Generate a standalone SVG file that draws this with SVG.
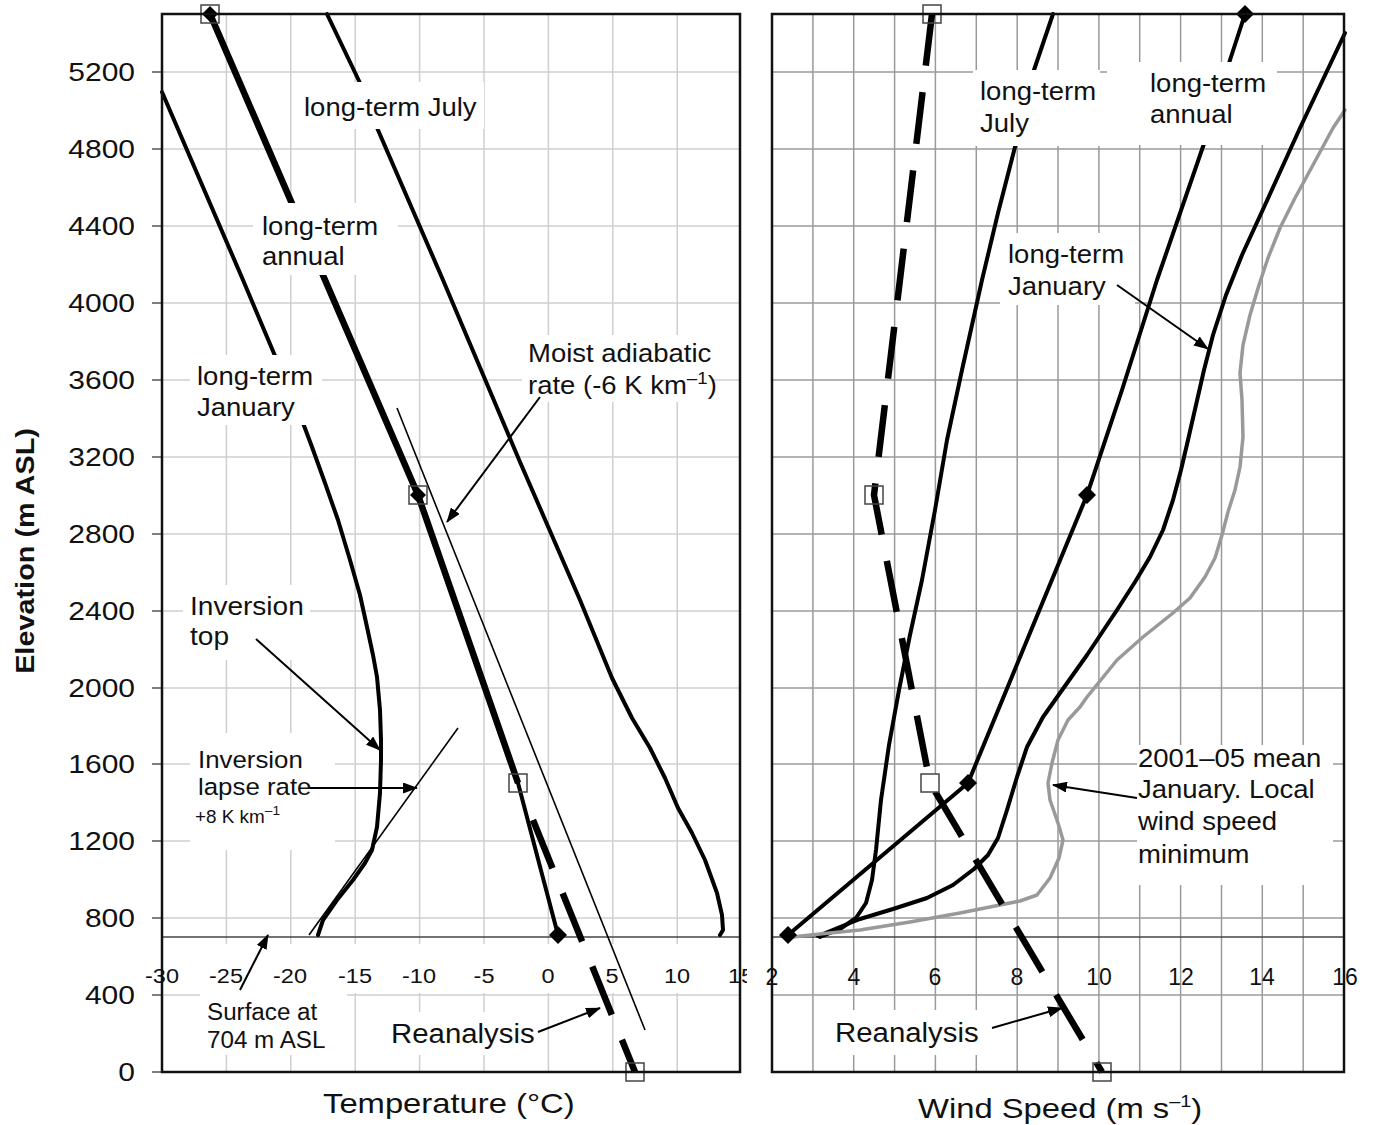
<svg xmlns="http://www.w3.org/2000/svg" width="1373" height="1125" viewBox="0 0 1373 1125">
<defs>
<style>
.gl{stroke:#cfcfcf;stroke-width:1.5}
.gr{stroke:#9a9a9a;stroke-width:1.5}
.frame{fill:none;stroke:#111;stroke-width:2.5}
.surf{stroke:#444;stroke-width:1.5}
.tk{stroke:#555;stroke-width:1.5}
.thick{fill:none;stroke:#000;stroke-width:4;stroke-linejoin:round;stroke-linecap:round}
.gray{fill:none;stroke:#999;stroke-width:3.5;stroke-linejoin:round;stroke-linecap:round}
.thin{fill:none;stroke:#000;stroke-width:1.6}
.rea{fill:none;stroke:#000;stroke-width:6.5;stroke-linecap:butt;stroke-linejoin:round}
.arr{fill:none;stroke:#000;stroke-width:2;marker-end:url(#ah)}
.box{fill:#fff}
.sq{fill:none;stroke:#444;stroke-width:1.5}
.sqw{fill:#fff;stroke:#444;stroke-width:1.5}
.dia{fill:#000}
.t{font-family:"Liberation Sans",Arial,sans-serif;font-size:25px;fill:#111}
.tk1{font-family:"Liberation Sans",Arial,sans-serif;font-size:21px;fill:#111;text-anchor:middle}
.tk2{font-family:"Liberation Sans",Arial,sans-serif;font-size:23px;fill:#111;text-anchor:middle}
.ty{font-family:"Liberation Sans",Arial,sans-serif;font-size:25px;fill:#111;text-anchor:end}
</style>
<marker id="ah" viewBox="0 0 15 11" refX="14" refY="5.5" markerWidth="15" markerHeight="11" markerUnits="userSpaceOnUse" orient="auto">
<path d="M0,0 L15,5.5 L0,11 z" fill="#000"/>
</marker>
</defs>
<rect width="1373" height="1125" fill="#fff"/>

<g id="left-grid">
<g class="gl">
<line x1="226.4" y1="14" x2="226.4" y2="1072"/><line x1="290.8" y1="14" x2="290.8" y2="1072"/><line x1="355.2" y1="14" x2="355.2" y2="1072"/><line x1="419.6" y1="14" x2="419.6" y2="1072"/><line x1="484" y1="14" x2="484" y2="1072"/><line x1="548.4" y1="14" x2="548.4" y2="1072"/><line x1="612.8" y1="14" x2="612.8" y2="1072"/><line x1="677.2" y1="14" x2="677.2" y2="1072"/>
<line x1="162" y1="72" x2="740" y2="72"/><line x1="162" y1="149" x2="740" y2="149"/><line x1="162" y1="226" x2="740" y2="226"/><line x1="162" y1="303" x2="740" y2="303"/><line x1="162" y1="380" x2="740" y2="380"/><line x1="162" y1="457" x2="740" y2="457"/><line x1="162" y1="534" x2="740" y2="534"/><line x1="162" y1="611" x2="740" y2="611"/><line x1="162" y1="688" x2="740" y2="688"/><line x1="162" y1="764" x2="740" y2="764"/><line x1="162" y1="841" x2="740" y2="841"/><line x1="162" y1="918" x2="740" y2="918"/><line x1="162" y1="995" x2="740" y2="995"/>
</g>
<rect class="box" x="163" y="944" width="576" height="49"/>
<line class="surf" x1="162" y1="937" x2="740" y2="937"/>
<g class="tk">
<line x1="152" y1="72" x2="162" y2="72"/><line x1="152" y1="149" x2="162" y2="149"/><line x1="152" y1="226" x2="162" y2="226"/><line x1="152" y1="303" x2="162" y2="303"/><line x1="152" y1="380" x2="162" y2="380"/><line x1="152" y1="457" x2="162" y2="457"/><line x1="152" y1="534" x2="162" y2="534"/><line x1="152" y1="611" x2="162" y2="611"/><line x1="152" y1="688" x2="162" y2="688"/><line x1="152" y1="764" x2="162" y2="764"/><line x1="152" y1="841" x2="162" y2="841"/><line x1="152" y1="918" x2="162" y2="918"/><line x1="152" y1="995" x2="162" y2="995"/><line x1="152" y1="1072" x2="162" y2="1072"/>
</g>
</g>

<g id="right-grid">
<g class="gr">
<line x1="812.9" y1="14" x2="812.9" y2="1072"/><line x1="853.7" y1="14" x2="853.7" y2="1072"/><line x1="894.6" y1="14" x2="894.6" y2="1072"/><line x1="935.4" y1="14" x2="935.4" y2="1072"/><line x1="976.3" y1="14" x2="976.3" y2="1072"/><line x1="1017.2" y1="14" x2="1017.2" y2="1072"/><line x1="1058" y1="14" x2="1058" y2="1072"/><line x1="1098.9" y1="14" x2="1098.9" y2="1072"/><line x1="1139.7" y1="14" x2="1139.7" y2="1072"/><line x1="1180.6" y1="14" x2="1180.6" y2="1072"/><line x1="1221.5" y1="14" x2="1221.5" y2="1072"/><line x1="1262.3" y1="14" x2="1262.3" y2="1072"/><line x1="1303.2" y1="14" x2="1303.2" y2="1072"/>
<line x1="772" y1="72" x2="1344" y2="72"/><line x1="772" y1="149" x2="1344" y2="149"/><line x1="772" y1="226" x2="1344" y2="226"/><line x1="772" y1="303" x2="1344" y2="303"/><line x1="772" y1="380" x2="1344" y2="380"/><line x1="772" y1="457" x2="1344" y2="457"/><line x1="772" y1="534" x2="1344" y2="534"/><line x1="772" y1="611" x2="1344" y2="611"/><line x1="772" y1="688" x2="1344" y2="688"/><line x1="772" y1="764" x2="1344" y2="764"/><line x1="772" y1="841" x2="1344" y2="841"/><line x1="772" y1="918" x2="1344" y2="918"/><line x1="772" y1="995" x2="1344" y2="995"/>
</g>
<line class="surf" x1="772" y1="937" x2="1344" y2="937"/>
</g>

<g id="left-curves">
<polyline id="temp-jan" class="thick" points="162,92 243,280 300,415 312,447 325,483 338,520 350,560 360,595 367,627 373,655 377,677 380,710 381,740 381,760 380,793 377,827 372,850 365,863 353,880 337,900 323,920 318,935"/>
<polyline id="temp-jul" class="thick" points="327,14 360,83 378,130 443,280 520,462 580,600 612,678 632,718 650,748 665,778 678,808 692,833 705,860 717,893 722,915 723,930 720,935"/>
<polyline id="temp-annual" class="thick" points="210,14 418,495 518,783 558,935"/>
<polyline id="temp-rea-upper" class="rea" points="210,14 418,495 518,783"/>
<path id="temp-rea-lower" class="rea" d="M533,820 L635,1072" stroke-dasharray="52 27"/>
<line id="moist-adiabat" class="thin" x1="397" y1="408" x2="645" y2="1030"/>
<line id="inversion-rate" class="thin" x1="458" y1="728" x2="309" y2="935"/>
<rect class="sq" x="201" y="5" width="18" height="18"/>
<polygon class="dia" points="210,6 218,14 210,22 202,14"/>
<rect class="sq" x="409" y="486" width="18" height="18"/>
<polygon class="dia" points="418,487 426,495 418,503 410,495"/>
<rect class="sq" x="509" y="774" width="18" height="18"/>
<polygon class="dia" points="558,926 567,935 558,944 549,935"/>
<rect class="sq" x="626" y="1063" width="18" height="18"/>
</g>

<g id="right-curves">
<polyline id="wind-jul" class="thick" points="1053,14 1034,70 1015,147 998,213 982,280 962,370 947,440 935,510 922,580 910,635 899,690 889,745 881,800 876,850 872,880 866,903 856,918 840,929 820,937"/>
<polyline id="wind-annual" class="thick" points="1245,14 1230,60 1207,135 1157,280 1122,390 1087,495 968,783 788,935"/>
<polyline id="wind-jan" class="thick" points="1345,33 1300,128 1265,205 1242,255 1226,295 1213,335 1204,370 1196,405 1188,440 1181,470 1173,500 1163,530 1150,557 1135,582 1117,610 1087,655 1060,693 1043,717 1027,747 1017,777 1007,810 998,838 988,855 974,869 953,885 927,898 893,909 860,919 840,927 818,936"/>
<polyline id="wind-2001-05" class="gray" points="1345,110 1333,128 1313,165 1295,198 1280,228 1268,258 1259,285 1250,315 1243,345 1240,373 1242,400 1243,437 1240,467 1235,490 1228,512 1222,535 1215,558 1205,577 1190,598 1173,613 1143,637 1117,660 1087,697 1080,707 1068,720 1058,740 1052,763 1048,783 1050,800 1058,823 1063,840 1059,858 1050,878 1037,895 1020,901 1000,905 960,913 910,922 860,930 810,935 793,937"/>
<polyline id="wind-rea" class="rea" points="932,14 874,495 930,783 1102,1072" stroke-dasharray="52 26.8"/>
<rect class="sq" x="923" y="5" width="18" height="18"/>
<polygon class="dia" points="1245,5 1254,14 1245,23 1236,14"/>
<rect class="sq" x="865" y="486" width="18" height="18"/>
<polygon class="dia" points="1087,486 1096,495 1087,504 1078,495"/>
<rect class="sqw" x="921" y="774" width="18" height="18"/>
<polygon class="dia" points="968,774 977,783 968,792 959,783"/>
<polygon class="dia" points="788,926 797,935 788,944 779,935"/>
<rect class="sq" x="1093" y="1063" width="18" height="18"/>
</g>

<g id="label-boxes">
<rect class="box" x="298" y="82" width="186" height="47"/>
<rect class="box" x="253" y="203" width="145" height="72"/>
<rect class="box" x="190" y="355" width="132" height="70"/>
<rect class="box" x="522" y="335" width="190" height="67"/>
<rect class="box" x="183" y="585" width="127" height="75"/>
<rect class="box" x="190" y="733" width="145" height="117"/>
<rect class="box" x="200" y="993" width="147" height="62"/>
<rect class="box" x="385" y="1012" width="155" height="43"/>
<rect class="box" x="973" y="70" width="127" height="76"/>
<rect class="box" x="1107" y="62" width="170" height="83"/>
<rect class="box" x="1000" y="233" width="135" height="72"/>
<rect class="box" x="1137" y="745" width="196" height="140"/>
<rect class="box" x="830" y="1010" width="157" height="45"/>
</g>

<g id="frames">
<rect class="frame" x="162" y="14" width="578" height="1058"/>
<rect class="frame" x="772" y="14" width="572" height="1058"/>
</g>

<g id="connectors">
<line class="arr" x1="540" y1="397" x2="447" y2="522"/>
<line class="arr" x1="256" y1="639" x2="380" y2="750"/>
<line class="arr" x1="310" y1="788" x2="417" y2="788"/>
<line class="arr" x1="240" y1="990" x2="268" y2="935"/>
<line class="arr" x1="538" y1="1032" x2="600" y2="1008"/>
<line class="arr" x1="1117" y1="285" x2="1208" y2="349"/>
<line class="arr" x1="1137" y1="798" x2="1053" y2="785"/>
<line class="arr" x1="992" y1="1028" x2="1062" y2="1008"/>
</g>

<g id="axis-labels">
<text class="ty" transform="translate(135,81) scale(1.2,1)">5200</text>
<text class="ty" transform="translate(135,158) scale(1.2,1)">4800</text>
<text class="ty" transform="translate(135,235) scale(1.2,1)">4400</text>
<text class="ty" transform="translate(135,312) scale(1.2,1)">4000</text>
<text class="ty" transform="translate(135,389) scale(1.2,1)">3600</text>
<text class="ty" transform="translate(135,466) scale(1.2,1)">3200</text>
<text class="ty" transform="translate(135,543) scale(1.2,1)">2800</text>
<text class="ty" transform="translate(135,620) scale(1.2,1)">2400</text>
<text class="ty" transform="translate(135,697) scale(1.2,1)">2000</text>
<text class="ty" transform="translate(135,773) scale(1.2,1)">1600</text>
<text class="ty" transform="translate(135,850) scale(1.2,1)">1200</text>
<text class="ty" transform="translate(135,927) scale(1.2,1)">800</text>
<text class="ty" transform="translate(135,1004) scale(1.2,1)">400</text>
<text class="ty" transform="translate(135,1081) scale(1.2,1)">0</text>
<text class="tk1" transform="translate(162,983) scale(1.12,1)">-30</text>
<text class="tk1" transform="translate(226,983) scale(1.12,1)">-25</text>
<text class="tk1" transform="translate(290,983) scale(1.12,1)">-20</text>
<text class="tk1" transform="translate(355,983) scale(1.12,1)">-15</text>
<text class="tk1" transform="translate(419,983) scale(1.12,1)">-10</text>
<text class="tk1" transform="translate(484,983) scale(1.12,1)">-5</text>
<text class="tk1" transform="translate(548,983) scale(1.12,1)">0</text>
<text class="tk1" transform="translate(612,983) scale(1.12,1)">5</text>
<text class="tk1" transform="translate(677,983) scale(1.12,1)">10</text>
<text class="tk1" transform="translate(741,983) scale(1.12,1)">15</text>
<rect class="box" x="747" y="960" width="19" height="30"/>
<text class="tk2" x="772" y="985">2</text>
<text class="tk2" x="854" y="985">4</text>
<text class="tk2" x="935" y="985">6</text>
<text class="tk2" x="1017" y="985">8</text>
<text class="tk2" x="1099" y="985">10</text>
<text class="tk2" x="1181" y="985">12</text>
<text class="tk2" x="1262" y="985">14</text>
<text class="tk2" x="1345" y="985">16</text>
<text class="t" style="font-weight:bold;font-size:26px;text-anchor:middle" transform="translate(34,551) rotate(-90) scale(1.11,1)">Elevation (m ASL)</text>
<text class="t" style="font-size:28px" transform="translate(323,1113) scale(1.17,1)">Temperature (°C)</text>
<text class="t" style="font-size:28px" transform="translate(918,1118) scale(1.17,1)">Wind Speed (m s<tspan dy="-11" font-size="17">–1</tspan><tspan dy="11">)</tspan></text>
</g>

<g id="annotations">
<text class="t" transform="translate(304,116) scale(1.1,1)">long-term July</text>
<text class="t" transform="translate(262,235) scale(1.1,1)"><tspan x="0" y="0">long-term</tspan><tspan x="0" y="30">annual</tspan></text>
<text class="t" transform="translate(197,385) scale(1.1,1)"><tspan x="0" y="0">long-term</tspan><tspan x="0" y="31">January</tspan></text>
<text class="t" transform="translate(528,362) scale(1.1,1)"><tspan x="0" y="0">Moist adiabatic</tspan><tspan x="0" y="32">rate (-6 K km<tspan dy="-10" font-size="17">–1</tspan><tspan dy="10">)</tspan></tspan></text>
<text class="t" style="font-size:25.5px" transform="translate(190,615) scale(1.1,1)"><tspan x="0" y="0">Inversion</tspan><tspan x="0" y="30">top</tspan></text>
<text class="t" style="font-size:23.5px" transform="translate(198,768) scale(1.1,1)"><tspan x="0" y="0">Inversion</tspan><tspan x="0" y="27">lapse rate</tspan></text>
<text class="t" style="font-size:18px" transform="translate(195,823) scale(1.05,1)">+8 K km<tspan dy="-8" font-size="13">–1</tspan></text>
<text class="t" style="font-size:23.5px" transform="translate(207,1020) scale(1.03,1)"><tspan x="0" y="0">Surface at</tspan><tspan x="0" y="28">704 m ASL</tspan></text>
<text class="t" style="font-size:28px" transform="translate(391,1043) scale(1.05,1)">Reanalysis</text>
<text class="t" transform="translate(980,100) scale(1.1,1)"><tspan x="0" y="0">long-term</tspan><tspan x="0" y="32">July</tspan></text>
<text class="t" transform="translate(1150,92) scale(1.1,1)"><tspan x="0" y="0">long-term</tspan><tspan x="0" y="31">annual</tspan></text>
<text class="t" transform="translate(1008,263) scale(1.1,1)"><tspan x="0" y="0">long-term</tspan><tspan x="0" y="32">January</tspan></text>
<text class="t" transform="translate(1138,767) scale(1.1,1)"><tspan x="0" y="0">2001–05 mean</tspan><tspan x="0" y="31">January. Local</tspan><tspan x="0" y="63">wind speed</tspan><tspan x="0" y="96">minimum</tspan></text>
<text class="t" style="font-size:28px" transform="translate(835,1042) scale(1.05,1)">Reanalysis</text>
</g>
</svg>
